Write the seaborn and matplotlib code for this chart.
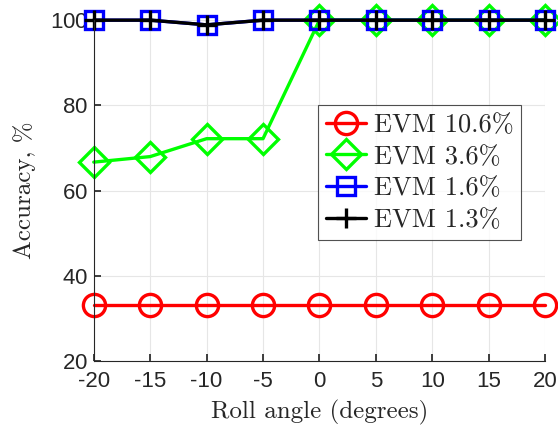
import numpy as np
import pandas as pd
import matplotlib
matplotlib.use("Agg")
import matplotlib.pyplot as plt
import seaborn as sns

# data
roll = [-20, -15, -10, -5, 0, 5, 10, 15, 20]
evm_10_6 = [33.3, 33.3, 33.3, 33.3, 33.3, 33.3, 33.3, 33.3, 33.3]
evm_3_6 = [66.7, 68.0, 72.2, 72.2, 100, 100, 100, 100, 100]
evm_1_6 = [100, 100, 98.9, 100, 100, 100, 100, 100, 100]
evm_1_3 = [100, 100, 98.9, 100, 100, 100, 100, 100, 100]
labels = ["EVM 10.6%", "EVM 3.6%", "EVM 1.6%", "EVM 1.3%"]

sns.set_theme(style="whitegrid")
plt.rcParams["font.family"] = ["Liberation Sans", "DejaVu Sans"]
plt.rcParams["axes.formatter.use_mathtext"] = True

df = pd.concat([
    pd.DataFrame({"roll": roll, "acc": v, "series": lab})
    for v, lab in zip([evm_10_6, evm_3_6, evm_1_6, evm_1_3], labels)
])

fig = plt.figure(figsize=(5.58, 4.29), dpi=100)
ax = fig.add_axes([0.168, 0.158, 0.809, 0.795])

styles = {
    "EVM 10.6%": dict(color="#ff0000", marker="o", ms=16),
    "EVM 3.6%": dict(color="#00ff00", marker="D", ms=15),
    "EVM 1.6%": dict(color="#0000ff", marker="s", ms=13),
    "EVM 1.3%": dict(color="black", marker="+", ms=15),
}
for lab in labels:
    st = styles[lab]
    sns.lineplot(data=df[df.series == lab], x="roll", y="acc", ax=ax,
                 color=st["color"], marker=st["marker"], markersize=st["ms"],
                 markerfacecolor="none", markeredgecolor=st["color"],
                 markeredgewidth=2.4, linewidth=2.4, label=lab, clip_on=False)

ax.set_xlim(-20, 20)
ax.set_ylim(20, 100)
ax.set_xticks(roll)
ax.set_xticklabels([str(r) for r in roll])
ax.set_yticks([20, 40, 60, 80, 100])
ax.tick_params(labelsize=16, colors="#262626", direction="in", length=5,
               left=True, bottom=True)
ax.tick_params(axis="x", pad=7)
ax.tick_params(axis="y", pad=4)
ax.grid(True, color="#e6e6e6", linewidth=0.8)
for s in ["top", "right"]:
    ax.spines[s].set_visible(False)
for s in ["left", "bottom"]:
    ax.spines[s].set_color("#262626")
    ax.spines[s].set_linewidth(0.8)
ax.set_facecolor("white")

ax.set_xlabel("Roll angle (degrees)", fontsize=18, family="cmr10",
              color="#262626", labelpad=6)
ax.set_ylabel("Accuracy, %", fontsize=18, family="cmr10",
              color="#262626", labelpad=10)

leg = ax.legend(loc="upper left", bbox_to_anchor=(0.497, 0.75),
                prop={"family": "cmr10", "size": 19}, frameon=True,
                fancybox=False, edgecolor="#262626", handlelength=1.5,
                handletextpad=0.3, borderpad=0.3, labelspacing=0.3,
                borderaxespad=0)
leg.get_frame().set_linewidth(0.8)

fig.savefig("out.png", dpi=100)
